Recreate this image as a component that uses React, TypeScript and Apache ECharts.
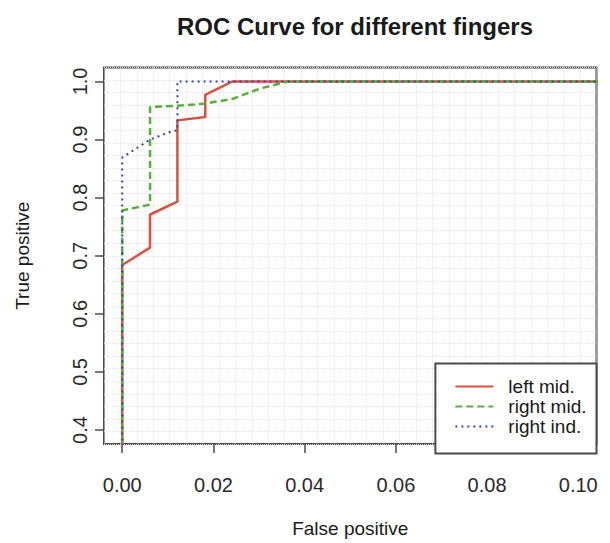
import React, { useEffect, useRef } from "react";
import * as echarts from "echarts";

const titleText = "ROC Curve for different fingers";
const xName = "False positive";
const yName = "True positive";
const xTicks = [0, 0.02, 0.04, 0.06, 0.08, 0.1];
const yTicks = [0.4, 0.5, 0.6, 0.7, 0.8, 0.9, 1.0];
const seriesNames = ["left mid.", "right mid.", "right ind."];

const leftMid: [number, number][] = [
  [0, 0], [0, 0.684], [0.0061, 0.714], [0.0061, 0.771], [0.0121, 0.793],
  [0.0121, 0.933], [0.0182, 0.939], [0.0182, 0.977], [0.0242, 1.0], [1, 1],
];
const rightMid: [number, number][] = [
  [0, 0], [0, 0.778], [0.0061, 0.788], [0.0061, 0.956], [0.0121, 0.958],
  [0.0182, 0.962], [0.0242, 0.97], [0.0303, 0.988], [0.0364, 1.0], [1, 1],
];
const rightInd: [number, number][] = [
  [0, 0], [0, 0.869], [0.0061, 0.9], [0.0108, 0.914], [0.0121, 0.916],
  [0.0121, 1.0], [1, 1],
];

const FONT = "Liberation Sans, Arial, Helvetica, sans-serif";

export default function App() {
  const ref = useRef<HTMLDivElement>(null);
  useEffect(() => {
    if (!ref.current) return;
    const chart = echarts.init(ref.current, undefined, { renderer: "svg" });
    const gridLine = { show: true, lineStyle: { color: "#e2e2e2", type: "dotted" as const, width: 1 } };
    chart.setOption({
      animation: false,
      backgroundColor: "#fff",
      title: {
        text: titleText,
        left: 350,
        top: 9,
        textAlign: "center",
        textStyle: { fontFamily: FONT, fontSize: 24, fontWeight: "bold", color: "#1a1a1a" },
      },
      grid: {
        left: 104,
        right: 13.5,
        top: 67.5,
        bottom: 89.5,
        show: true,
        borderColor: "#4a4a4a",
        borderWidth: 2,
        backgroundColor: "transparent",
      },
      legend: {
        orient: "vertical",
        right: 13.5,
        bottom: 89.5,
        data: seriesNames,
        itemWidth: 38,
        itemHeight: 14,
        itemGap: 0,
        padding: [13, 10, 17, 19],
        borderColor: "#4a4a4a",
        borderWidth: 2,
        backgroundColor: "#fff",
        itemStyle: { opacity: 0 },
        textStyle: { fontFamily: FONT, fontSize: 19, lineHeight: 20, color: "#1a1a1a", padding: [0, 0, 0, 10] },
      },
      xAxis: [
        {
          type: "value",
          min: -0.004,
          max: 0.104,
          name: xName,
          nameLocation: "middle",
          nameGap: 75,
          nameTextStyle: { fontFamily: FONT, fontSize: 19, color: "#1a1a1a" },
          axisLine: { show: false, onZero: false },
          axisTick: { show: true, length: 9, customValues: xTicks, lineStyle: { color: "#4a4a4a", width: 1.5 } },
          axisLabel: {
            customValues: xTicks,
            margin: 31,
            fontFamily: FONT,
            fontSize: 20,
            color: "#2a2a2a",
            formatter: (v: number) => v.toFixed(2),
          },
          splitLine: { show: false },
        },
        {
          type: "value",
          position: "top",
          min: 0,
          max: 30,
          interval: 1,
          axisLine: { show: false, onZero: false },
          axisTick: { show: false },
          axisLabel: { show: false },
          splitLine: gridLine,
        },
      ],
      yAxis: [
        {
          type: "value",
          min: 0.376,
          max: 1.024,
          name: yName,
          nameLocation: "middle",
          nameRotate: 90,
          nameGap: 72,
          nameTextStyle: { fontFamily: FONT, fontSize: 19, color: "#1a1a1a" },
          axisLine: { show: false, onZero: false },
          axisTick: { show: true, length: 9, customValues: yTicks, lineStyle: { color: "#4a4a4a", width: 1.5 } },
          axisLabel: {
            customValues: yTicks,
            rotate: 90,
            margin: 14,
            fontFamily: FONT,
            fontSize: 20,
            color: "#2a2a2a",
            formatter: (v: number) => v.toFixed(1),
          },
          splitLine: { show: false },
        },
        {
          type: "value",
          position: "right",
          min: 0,
          max: 30,
          interval: 1,
          axisLine: { show: false, onZero: false },
          axisTick: { show: false },
          axisLabel: { show: false },
          splitLine: gridLine,
        },
      ],
      series: [
        {
          name: seriesNames[0],
          type: "line",
          data: leftMid,
          xAxisIndex: 0,
          yAxisIndex: 0,
          symbol: "none",
          showSymbol: false,
          clip: true,
          itemStyle: { color: "#d9503f" },
          lineStyle: { color: "#d9503f", width: 2.5, type: "solid" },
          z: 3,
        },
        {
          name: seriesNames[1],
          type: "line",
          data: rightMid,
          xAxisIndex: 0,
          yAxisIndex: 0,
          symbol: "none",
          showSymbol: false,
          clip: true,
          itemStyle: { color: "#55b03c" },
          lineStyle: { color: "#55b03c", width: 2.5, type: [7, 4] },
          z: 4,
        },
        {
          name: seriesNames[2],
          type: "line",
          data: rightInd,
          xAxisIndex: 0,
          yAxisIndex: 0,
          symbol: "none",
          showSymbol: false,
          clip: true,
          itemStyle: { color: "#3344aa" },
          lineStyle: { color: "#3344aa", width: 2, type: [2, 4] },
          z: 5,
        },
      ],
    });
    return () => chart.dispose();
  }, []);
  return <div ref={ref} style={{ width: 610, height: 543, position: "absolute", left: 0, top: 0 }} />;
}
